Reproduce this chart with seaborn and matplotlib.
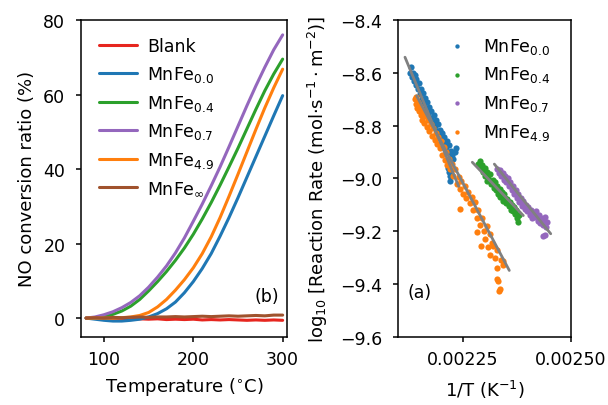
import matplotlib
matplotlib.use('Agg')
import matplotlib.pyplot as plt
import seaborn as sns
import numpy as np

# ---------------- data: left panel (NO conversion vs temperature) ----------------
temperature = [80, 90, 100, 110, 120, 130, 140, 150, 160, 170, 180, 190, 200,
               210, 220, 230, 240, 250, 260, 270, 280, 290, 300]
conv_blank = [0.0, -0.1, 0.0, -0.2, -0.1, -0.3, -0.2, -0.3, -0.2, -0.4, -0.3, -0.4,
              -0.3, -0.5, -0.4, -0.5, -0.4, -0.5, -0.6, -0.5, -0.6, -0.5, -0.6]
conv_00 = [0.0, -0.3, -0.6, -0.8, -0.8, -0.6, -0.3, 0.3, 1.2, 2.5, 4.3, 6.8, 9.8,
           13.3, 17.3, 22.0, 27.0, 32.3, 37.8, 43.3, 48.8, 54.3, 59.7]
conv_04 = [0.0, 0.1, 0.4, 1.0, 1.9, 3.2, 5.0, 7.3, 9.8, 12.5, 15.5, 18.8, 22.5,
           26.6, 31.0, 35.7, 40.6, 45.6, 50.8, 56.0, 61.0, 65.5, 69.5]
conv_07 = [0.0, 0.3, 0.9, 1.7, 2.8, 4.2, 6.0, 8.3, 11.0, 14.0, 17.5, 21.5, 26.0,
           30.6, 35.5, 40.6, 46.0, 51.5, 57.0, 62.3, 67.3, 72.0, 76.0]
conv_49 = [0.0, 0.0, 0.0, 0.0, 0.1, 0.3, 0.7, 1.5, 3.0, 5.0, 7.5, 10.3, 13.5,
           17.3, 21.8, 27.0, 32.7, 38.6, 44.6, 50.6, 56.4, 61.8, 66.8]
conv_inf = [0.0, 0.1, 0.0, 0.2, 0.1, 0.2, 0.3, 0.2, 0.3, 0.3, 0.4, 0.3, 0.4, 0.5,
            0.4, 0.5, 0.6, 0.5, 0.6, 0.7, 0.6, 0.8, 0.8]

left_labels = ['Blank', r'MnFe$_{0.0}$', r'MnFe$_{0.4}$', r'MnFe$_{0.7}$',
               r'MnFe$_{4.9}$', r'MnFe$_{\infty}$']
left_series = [conv_blank, conv_00, conv_04, conv_07, conv_49, conv_inf]
left_colors = ['#e6261f', '#1f77b4', '#2ca02c', '#9467bd', '#ff7f0e', '#a0522d']

# ---------------- data: right panel (Arrhenius plot) ----------------
invT_00 = [0.002128, 0.002130, 0.002132, 0.002134, 0.002136, 0.002138, 0.002140,
           0.002142, 0.002145, 0.002147, 0.002150, 0.002152, 0.002155, 0.002157,
           0.002160, 0.002162, 0.002165, 0.002167, 0.002170, 0.002172, 0.002175,
           0.002177, 0.002180, 0.002182, 0.002185, 0.002187, 0.002190, 0.002192,
           0.002195, 0.002197, 0.002200, 0.002202, 0.002205, 0.002207, 0.002210,
           0.002212, 0.002215, 0.002217, 0.002220, 0.002222, 0.002225, 0.002228,
           0.002231, 0.002234, 0.002216, 0.002219, 0.002221, 0.002218]
rate_00 = [-8.600, -8.580, -8.615, -8.600, -8.630, -8.610, -8.645, -8.625, -8.660,
           -8.640, -8.680, -8.660, -8.700, -8.675, -8.715, -8.695, -8.735, -8.710,
           -8.755, -8.730, -8.770, -8.745, -8.790, -8.760, -8.800, -8.780, -8.820,
           -8.795, -8.835, -8.815, -8.850, -8.830, -8.870, -8.845, -8.880, -8.860,
           -8.900, -8.875, -8.930, -8.895, -8.910, -8.925, -8.900, -8.885, -8.960,
           -8.990, -9.010, -8.975]

invT_04 = [0.002286, 0.002290, 0.002292, 0.002295, 0.002297, 0.002300, 0.002302,
           0.002305, 0.002305, 0.002308, 0.002311, 0.002313, 0.002316, 0.002319,
           0.002321, 0.002324, 0.002327, 0.002330, 0.002332, 0.002335, 0.002337,
           0.002340, 0.002343, 0.002345, 0.002348, 0.002350, 0.002353, 0.002356,
           0.002358, 0.002361, 0.002363, 0.002366, 0.002368, 0.002371, 0.002374,
           0.002376, 0.002378, 0.002380]
rate_04 = [-8.945, -8.935, -8.960, -8.950, -8.975, -8.960, -8.990, -8.975, -9.010,
           -8.990, -9.005, -8.985, -9.020, -9.005, -9.035, -9.015, -9.045, -9.030,
           -9.060, -9.040, -9.070, -9.050, -9.085, -9.060, -9.075, -9.095, -9.080,
           -9.105, -9.090, -9.120, -9.100, -9.125, -9.110, -9.135, -9.120, -9.150,
           -9.165, -9.140]

invT_07 = [0.002330, 0.002333, 0.002336, 0.002339, 0.002342, 0.002345, 0.002348,
           0.002351, 0.002354, 0.002357, 0.002360, 0.002363, 0.002366, 0.002369,
           0.002372, 0.002375, 0.002378, 0.002381, 0.002384, 0.002387, 0.002390,
           0.002393, 0.002396, 0.002399, 0.002402, 0.002405, 0.002408, 0.002411,
           0.002414, 0.002417, 0.002420, 0.002423, 0.002426, 0.002429, 0.002432,
           0.002435, 0.002438, 0.002441, 0.002444, 0.002436, 0.002440, 0.002443]
rate_07 = [-8.965, -8.980, -8.970, -8.990, -8.980, -9.005, -8.990, -9.015, -9.000,
           -9.030, -9.015, -9.045, -9.030, -9.060, -9.045, -9.075, -9.060, -9.090,
           -9.075, -9.105, -9.085, -9.115, -9.100, -9.125, -9.110, -9.140, -9.120,
           -9.150, -9.130, -9.145, -9.125, -9.160, -9.140, -9.170, -9.150, -9.175,
           -9.160, -9.145, -9.165, -9.220, -9.215, -9.185]

invT_49 = [0.002138, 0.002140, 0.002142, 0.002144, 0.002146, 0.002148, 0.002150,
           0.002152, 0.002154, 0.002156, 0.002158, 0.002160, 0.002163, 0.002166,
           0.002169, 0.002172, 0.002175, 0.002178, 0.002181, 0.002184, 0.002187,
           0.002190, 0.002193, 0.002196, 0.002199, 0.002202, 0.002205, 0.002208,
           0.002211, 0.002214, 0.002217, 0.002220, 0.002224, 0.002228, 0.002232,
           0.002236, 0.002240, 0.002243, 0.002246, 0.002243, 0.002250, 0.002254,
           0.002258, 0.002262, 0.002266, 0.002270, 0.002274, 0.002278, 0.002282,
           0.002282, 0.002286, 0.002290, 0.002294, 0.002293, 0.002298, 0.002302,
           0.002305, 0.002309, 0.002313, 0.002313, 0.002317, 0.002320, 0.002324,
           0.002328, 0.002328, 0.002331, 0.002333, 0.002336, 0.002338, 0.002342,
           0.002344, 0.002330]
rate_49 = [-8.700, -8.720, -8.690, -8.735, -8.710, -8.745, -8.725, -8.760, -8.740,
           -8.780, -8.750, -8.790, -8.765, -8.805, -8.780, -8.820, -8.795, -8.840,
           -8.810, -8.855, -8.830, -8.870, -8.845, -8.885, -8.860, -8.910, -8.880,
           -8.930, -8.900, -8.950, -8.925, -8.965, -8.945, -8.990, -8.965, -9.020,
           -8.995, -9.040, -9.010, -9.115, -9.060, -9.030, -9.075, -9.050, -9.095,
           -9.070, -9.120, -9.090, -9.150, -9.205, -9.120, -9.175, -9.150, -9.255,
           -9.200, -9.230, -9.180, -9.260, -9.210, -9.290, -9.245, -9.255, -9.300,
           -9.270, -9.340, -9.390, -9.425, -9.420, -9.310, -9.330, -9.315, -9.380]

right_labels = [r'MnFe$_{0.0}$', r'MnFe$_{0.4}$', r'MnFe$_{0.7}$', r'MnFe$_{4.9}$']
right_x = [invT_00, invT_04, invT_07, invT_49]
right_y = [rate_00, rate_04, rate_07, rate_49]
right_colors = ['#1f77b4', '#2ca02c', '#9467bd', '#ff7f0e']

# linear fit lines (endpoints)
fit_x = [[0.0021155, 0.002240], [0.0022717, 0.002390],
         [0.0023228, 0.0024536], [0.0021425, 0.0023575]]
fit_y = [[-8.541, -9.030], [-8.939, -9.141],
         [-8.946, -9.210], [-8.687, -9.349]]

# ---------------- style ----------------
sns.set_theme(style='ticks', rc={
    'axes.edgecolor': 'black', 'text.color': 'black', 'axes.labelcolor': 'black',
    'xtick.color': 'black', 'ytick.color': 'black',
    'axes.linewidth': 1.1, 'xtick.major.width': 1.1, 'ytick.major.width': 1.1,
    'xtick.major.size': 3.5, 'ytick.major.size': 3.5,
    'xtick.major.pad': 6.0, 'ytick.major.pad': 8.0,
})
plt.rcParams['font.family'] = ['DejaVu Sans']
plt.rcParams['mathtext.fontset'] = 'dejavusans'
plt.rcParams['mathtext.default'] = 'regular'
plt.rcParams['axes.unicode_minus'] = True
FS = 12.5
LFS = 13

fig = plt.figure(figsize=(6.08, 4.06), dpi=100)
ax1 = fig.add_axes([0.1337, 0.1682, 0.3378, 0.7801])
ax2 = fig.add_axes([0.6551, 0.1682, 0.2836, 0.7801])

# ---------------- left panel ----------------
for vals, lab, col in zip(left_series, left_labels, left_colors):
    sns.lineplot(x=temperature, y=vals, color=col, label=lab, lw=2.2, ax=ax1)
ax1.set_xlim(74.6, 304.5)
ax1.set_ylim(-5, 80)
ax1.set_xticks([100, 200, 300])
ax1.set_yticks([0, 20, 40, 60, 80])
ax1.tick_params(labelsize=FS)
ax1.set_xlabel(r'Temperature ($^{\circ}$C)', fontsize=LFS, labelpad=5)
ax1.set_ylabel('NO conversion ratio (%)', fontsize=LFS, labelpad=5)
ax1.legend(loc='upper left', frameon=False, fontsize=FS, handlelength=2.2,
           labelspacing=0.5, handletextpad=0.6, borderaxespad=0.6)
ax1.text(0.905, 0.128, '(b)', transform=ax1.transAxes, ha='center', va='center',
         fontsize=FS)

# ---------------- right panel ----------------
for xs, ys, lab, col in zip(right_x, right_y, right_labels, right_colors):
    sns.scatterplot(x=xs, y=ys, color=col, label=lab, s=20, linewidth=0, ax=ax2)
for xs, ys in zip(fit_x, fit_y):
    sns.lineplot(x=xs, y=ys, color='#808080', lw=2, ax=ax2, legend=False)
ax2.set_xlim(0.0021, 0.0025)
ax2.set_ylim(-9.6, -8.4)
ax2.set_xticks([0.00225, 0.0025])
ax2.set_xticklabels(['0.00225', '0.00250'])
ax2.set_yticks([-9.6, -9.4, -9.2, -9.0, -8.8, -8.6, -8.4])
ax2.set_yticklabels(['\u22129.6', '\u22129.4', '\u22129.2', '\u22129.0',
                     '\u22128.8', '\u22128.6', '\u22128.4'])
ax2.tick_params(labelsize=FS)
ax2.set_xlabel(r'1/T (K$^{-1}$)', fontsize=LFS, labelpad=7)
ax2.set_ylabel(r'log$_{10}$ [Reaction Rate (mol$\cdot$s$^{-1}\cdot$m$^{-2}$)]',
               fontsize=LFS, labelpad=7)
ax2.legend(loc='upper right', bbox_to_anchor=(0.975, 1.0), frameon=False,
           fontsize=FS, markerscale=0.7, handletextpad=0.5, labelspacing=0.5,
           borderaxespad=0.5)
ax2.text(0.126, 0.141, '(a)', transform=ax2.transAxes, ha='center', va='center',
         fontsize=FS)

fig.savefig('out.png', dpi=100)
